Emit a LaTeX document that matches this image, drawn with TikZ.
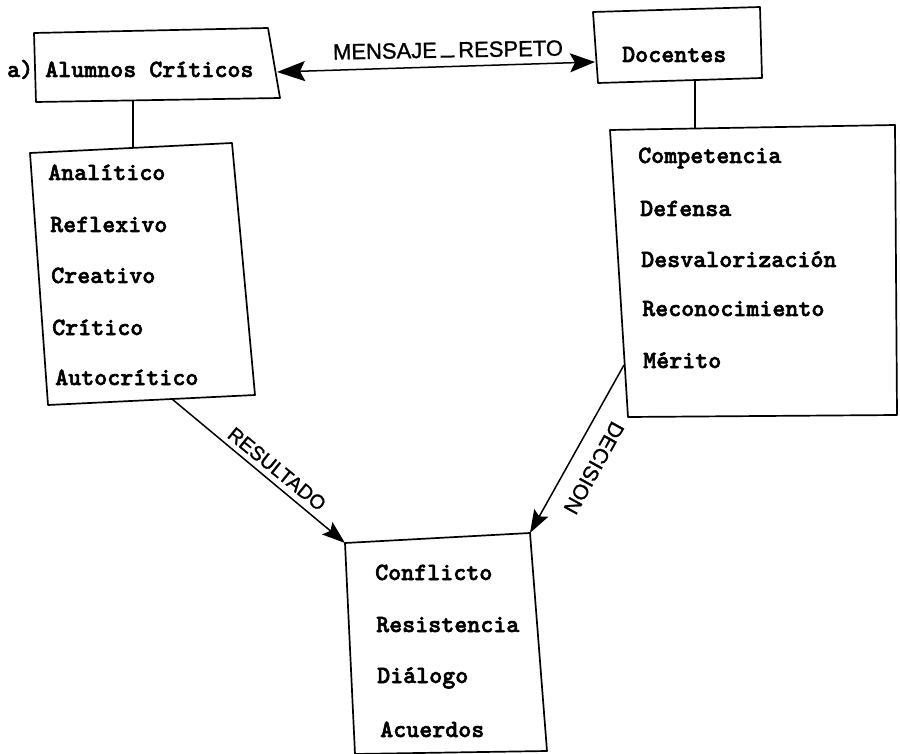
\documentclass[tikz,border=0pt]{standalone}
\usepackage{fontspec}
\usetikzlibrary{arrows.meta}
\newfontfamily\handfont{Liberation Sans}[FakeBold=1.2]
\newfontfamily\typefont{lmmonolt10-bold.otf}[FakeBold=2.2]
\newcommand{\itemfont}{\typefont\fontsize{24.8}{26}\selectfont}

\tikzset{
  frame/.style={draw, line width=1.7pt, line join=round},
  item/.style={anchor=base west, inner sep=0pt, font=\itemfont},
  hand/.style={inner sep=0pt, font=\handfont\fontsize{#1}{#1}\selectfont},
  link/.style={line width=1.5pt},
  bigtip/.style={arrows={Stealth[length=28pt,width=20pt,inset=5pt]-Stealth[length=25pt,width=19pt,inset=5pt]}},
  tip/.style={arrows={-Stealth[length=23pt,width=16pt,inset=4pt]}}
}

\begin{document}
\begin{tikzpicture}[x=1pt, y=-1pt]
  \useasboundingbox (0,0) rectangle (900,754);

  % ---- corners of the frames ----
  % students
  \coordinate (s1) at (34,33);   \coordinate (s2) at (268,28);
  \coordinate (s3) at (280,98);  \coordinate (s4) at (36,102);
  % students' traits
  \coordinate (l1) at (30,153);  \coordinate (l2) at (232,143);
  \coordinate (l3) at (255,395); \coordinate (l4) at (48,405);
  % teachers
  \coordinate (t1) at (593,12);  \coordinate (t2) at (760,7);
  \coordinate (t3) at (762,78);  \coordinate (t4) at (598,83);
  % teachers' attitudes
  \coordinate (r1) at (610,130); \coordinate (r2) at (895,125);
  \coordinate (r3) at (897,415); \coordinate (r4) at (628,417);
  % outcomes
  \coordinate (b1) at (345,543); \coordinate (b2) at (530,533);
  \coordinate (b3) at (547,751); \coordinate (b4) at (355,754);

  \draw[frame] (s1) -- (s2) -- (s3) -- (s4) -- cycle;
  \draw[frame] (l1) -- (l2) -- (l3) -- (l4) -- cycle;
  \draw[frame] (t1) -- (t2) -- (t3) -- (t4) -- cycle;
  \draw[frame] (r1) -- (r2) -- (r3) -- (r4) -- cycle;
  \draw[frame] (b4) -- (b1) -- (b2) -- (b3) -- (b4);

  % ---- texts ----
  \node[item] (lbl) at (7,77) {a)};
  \node[item] (alumnos) at (45,77) {Alumnos Críticos};
  \node[item] (docentes) at (622,62) {Docentes};

  \node[item] (analitico)   at (48,180) {Analítico};
  \node[item] (reflexivo)   at (50,232) {Reflexivo};
  \node[item] (creativo)    at (51,283) {Creativo};
  \node[item] (critico)     at (52,335) {Crítico};
  \node[item] (autocritico) at (55,385) {Autocrítico};

  \node[item] (competencia)    at (638,163) {Competencia};
  \node[item] (defensa)        at (640,216) {Defensa};
  \node[item] (desvalor)       at (641,267) {Desvalorización};
  \node[item] (reconocimiento) at (642,316) {Reconocimiento};
  \node[item] (merito)         at (643,368) {Mérito};

  \node[item] (conflicto)   at (375,580) {Conflicto};
  \node[item] (resistencia) at (376,632) {Resistencia};
  \node[item] (dialogo)     at (377,683) {Diálogo};
  \node[item] (acuerdos)    at (380,737) {Acuerdos};

  % ---- connectors ----
  \coordinate (sDown) at (133,100);  \coordinate (lTop) at (133,148);
  \coordinate (tDown) at (695,80);   \coordinate (rTop) at (695,128);
  \draw[link] (sDown) -- (lTop);
  \draw[link] (tDown) -- (rTop);

  \coordinate (sEast) at (277,72);
  \coordinate (tWest) at (595,62);
  \draw[link, bigtip] (sEast) -- (tWest);
  \node[hand=22, rotate=1] (mensaje) at (448,50)
    {MENSAJE\,\rule{14pt}{2pt}\,RESPETO};

  \coordinate (lOut) at (172,399);
  \draw[link, tip] (lOut) -- (b1);
  \node[hand=20, rotate=-39] (resultado) at (277,469) {RESULTADO};

  \coordinate (rOut) at (624,365);
  \draw[link, tip] (rOut) -- (b2);
  \node[hand=21, rotate=241] (decision) at (594,468) {DECISION};
\end{tikzpicture}
\end{document}
